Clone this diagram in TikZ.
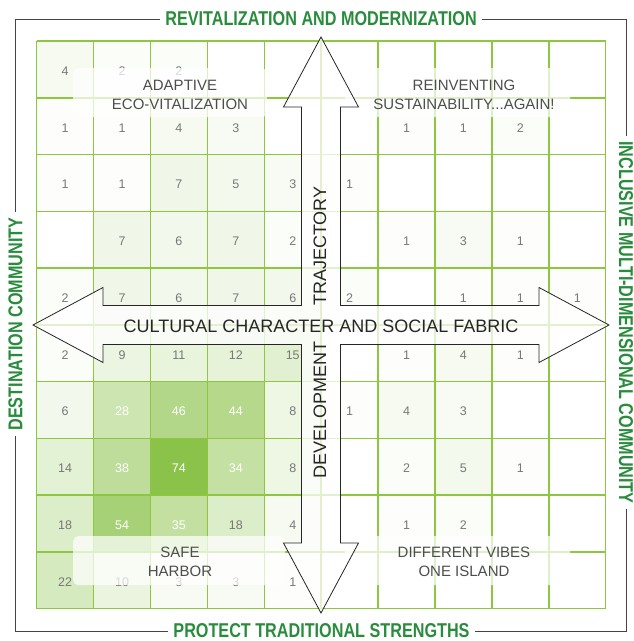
\documentclass[tikz,border=0pt]{standalone}
\usepackage{fontspec}
\setmainfont{Liberation Sans}
\newfontfamily\titlefont[FakeStretch=0.81]{Liberation Sans Bold}
\usetikzlibrary{positioning}

\definecolor{gridgreen}{RGB}{141,198,63}
\definecolor{heat}{RGB}{139,195,74}
\definecolor{titlegreen}{RGB}{40,140,60}
\definecolor{numgray}{RGB}{120,120,120}
\definecolor{labelgray}{RGB}{77,77,77}
\definecolor{framegray}{RGB}{68,68,68}

\begin{document}
\begin{tikzpicture}[x=1pt,y=-1pt,
    gridline/.style={draw=gridgreen,line width=1.5pt},
    cellnum/.style={text=numgray,font=\fontsize{12.5}{14}\selectfont,
		inner sep=0pt},
    labelbox/.style={rectangle,rounded corners=5pt,fill=white,
		fill opacity=0.72,anchor=north west,inner sep=0pt},
    labeltext/.style={text=labelgray,align=center,
		font=\fontsize{15}{19}\selectfont,inner sep=0pt},
% Cross of the two axes
    crossarrow/.style={draw=black!85,line width=0.8pt,fill=white,
		fill opacity=0.75,line join=miter},
    crosstext/.style={text=black!85,font=\fontsize{18}{20}\selectfont,
		inner sep=0pt},
% Titles round the frame
    titletext/.style={text=titlegreen,
		font=\titlefont\fontsize{20}{22}\selectfont,
		inner xsep=5pt,inner ysep=0pt},
    frameline/.style={draw=framegray,line width=0.8pt}
    ]
   \useasboundingbox (0,0) rectangle (634,641);

%%% Heat map cells
   \foreach \row [count=\r] in {{4,2,2,0,0,0,0,0,0,0},{1,1,4,3,0,0,1,1,2,0},
		{1,1,7,5,3,1,0,0,0,0},{0,7,6,7,2,0,1,3,1,0},{2,7,6,7,6,2,0,1,1,1},
		{2,9,11,12,15,0,1,4,1,0},{6,28,46,44,8,1,4,3,0,0},
		{14,38,74,34,8,0,2,5,1,0},{18,54,35,18,4,0,1,2,0,0},
		{22,10,3,3,1,0,0,0,0,0}} {
     \foreach \v [count=\c] in \row {
       \pgfmathsetmacro\xl{36.7+(\c-1)*56.9}
       \pgfmathsetmacro\yt{41+(\r-1)*56.77}
       \pgfmathtruncatemacro\p{min(100,100*(\v/74)^0.85)}
       \ifnum\v>27 \def\numcol{white}\else\def\numcol{numgray}\fi
       \ifnum\v>0
         \fill[heat!\p!white] (\xl,\yt) rectangle ++(56.9,56.77);
         \node[cellnum,text=\numcol] (n-\r-\c) at ({\xl+28.45},{\yt+30}) {\v};
       \fi
     }
   }
   \foreach \i in {0,...,10} {
     \draw[gridline] ({36.7+\i*56.9},41) -- ({36.7+\i*56.9},608.7);
     \draw[gridline] (36.7,{41+\i*56.77}) -- (605.7,{41+\i*56.77});
   }

%%% Quadrant labels
   \node[labelbox,minimum width=194pt,minimum height=49pt] (boxA) at (73,68) {};
   \node[labelbox,minimum width=225pt,minimum height=49pt] (boxB) at (345,68) {};
   \node[labelbox,minimum width=212pt,minimum height=49pt] (boxC) at (73,536) {};
   \node[labelbox,minimum width=225pt,minimum height=49pt] (boxD) at (345,536) {};
   \node[labeltext] (adaptive) at (180,94.5) {ADAPTIVE\\ECO-VITALIZATION};
   \node[labeltext] (reinvent) at (464,94.5) {REINVENTING\\SUSTAINABILITY...AGAIN!};
   \node[labeltext] (harbor) at (180,562) {SAFE\\HARBOR};
   \node[labeltext] (vibes) at (464,562) {DIFFERENT VIBES\\ONE ISLAND};

%%% Cross
   \coordinate (ctr) at (321,325);
   \draw[crossarrow] ([yshift=288pt]ctr) -- ++(37.5,70) -- ++(-18,0)
	-- ++(0,198.5) -- ++(198.5,0) -- ++(0,-18) -- ++(70,37.5)
	-- ++(-70,37.5) -- ++(0,-18) -- ++(-198.5,0) -- ++(0,198.5)
	-- ++(18,0) -- ++(-37.5,70) -- ++(-37.5,-70) -- ++(18,0)
	-- ++(0,-198.5) -- ++(-198.5,0) -- ++(0,18) -- ++(-70,-37.5)
	-- ++(70,-37.5) -- ++(0,18) -- ++(198.5,0) -- ++(0,-198.5)
	-- ++(-18,0) -- cycle;
   \node[crosstext] (culture) at (321,326) {CULTURAL CHARACTER AND SOCIAL FABRIC};
   \node[crosstext,rotate=90] (traject) at (320,246) {TRAJECTORY};
   \node[crosstext,rotate=90] (develop) at (320,410) {DEVELOPMENT};

%%% Titles and frame
   \node[titletext] (ttop) at (321,19) {REVITALIZATION AND MODERNIZATION};
   \node[titletext] (tbottom) at (321.5,631) {PROTECT TRADITIONAL STRENGTHS};
   \node[titletext,rotate=90] (tleft) at (15.5,324) {DESTINATION COMMUNITY};
   \node[titletext,rotate=-90] (tright) at (626,322.5) {INCLUSIVE MULTI-DIMENSIONAL COMMUNITY};
   \draw[frameline] (ttop.west) -| (tleft.east);
   \draw[frameline] (ttop.east) -| (tright.west);
   \draw[frameline] (tbottom.east) -| (tright.east);
   \draw[frameline] (tbottom.west) -| (tleft.west);
\end{tikzpicture}
\end{document}
